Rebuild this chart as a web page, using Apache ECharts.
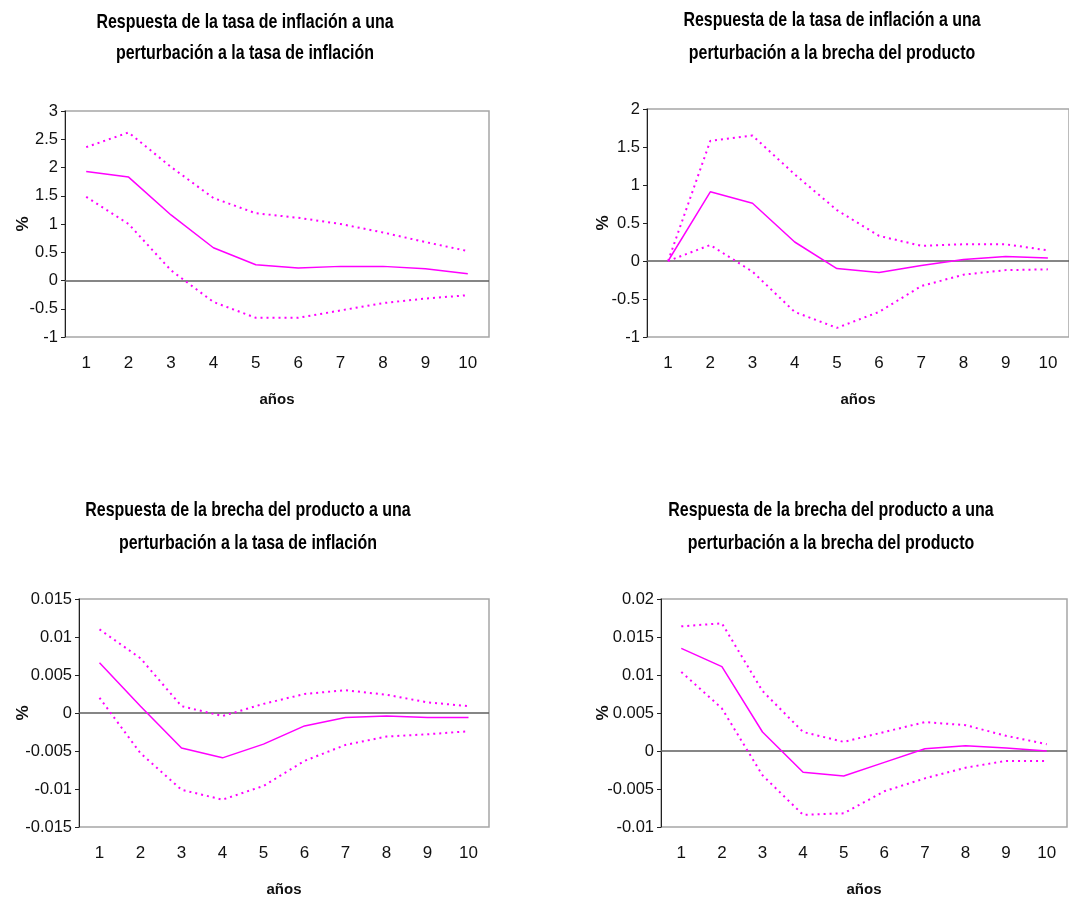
<!DOCTYPE html>
<html>
<head>
<meta charset="utf-8">
<title>Funciones impulso-respuesta</title>
<script src="https://cdn.jsdelivr.net/npm/echarts@6/dist/echarts.min.js"></script>
<style>
  html, body { margin: 0; padding: 0; background: #ffffff; }
  #chart { width: 1069px; height: 902px; }
</style>
</head>
<body>
<div id="chart"></div>
<script>
// Horizonte de la respuesta (años)
const years = ['1', '2', '3', '4', '5', '6', '7', '8', '9', '10'];

// Inflación ante choque de inflación
const infInfCenter = [1.93, 1.83, 1.16, 0.58, 0.28, 0.22, 0.25, 0.25, 0.21, 0.12];
const infInfUpper  = [2.36, 2.62, 2.01, 1.46, 1.19, 1.11, 1.00, 0.85, 0.68, 0.52];
const infInfLower  = [1.48, 1.00, 0.18, -0.38, -0.66, -0.66, -0.53, -0.40, -0.32, -0.26];

// Inflación ante choque de la brecha del producto
const infGapCenter = [0.00, 0.91, 0.76, 0.25, -0.10, -0.15, -0.06, 0.02, 0.06, 0.04];
const infGapUpper  = [0.00, 1.58, 1.65, 1.14, 0.67, 0.33, 0.20, 0.22, 0.22, 0.14];
const infGapLower  = [0.00, 0.21, -0.14, -0.67, -0.88, -0.67, -0.33, -0.18, -0.12, -0.11];

// Brecha del producto ante choque de inflación
const gapInfCenter = [0.0066, 0.0009, -0.0046, -0.0059, -0.0041, -0.0017, -0.0006, -0.0004, -0.0006, -0.0006];
const gapInfUpper  = [0.0110, 0.0072, 0.0009, -0.0004, 0.0012, 0.0025, 0.0030, 0.0024, 0.0014, 0.0009];
const gapInfLower  = [0.0020, -0.0053, -0.0101, -0.0114, -0.0096, -0.0063, -0.0042, -0.0031, -0.0028, -0.0024];

// Brecha del producto ante choque de la brecha del producto
const gapGapCenter = [0.0135, 0.0111, 0.0025, -0.0028, -0.0033, -0.0015, 0.0003, 0.0007, 0.0004, 0.0000];
const gapGapUpper  = [0.0164, 0.0168, 0.0079, 0.0025, 0.0012, 0.0025, 0.0038, 0.0034, 0.0020, 0.0009];
const gapGapLower  = [0.0104, 0.0056, -0.0032, -0.0084, -0.0082, -0.0053, -0.0036, -0.0022, -0.0013, -0.0013];

// Escalas de los ejes verticales
const yScales = [
  { min: -1, max: 3, interval: 0.5 },
  { min: -1, max: 2, interval: 0.5 },
  { min: -0.015, max: 0.015, interval: 0.005 },
  { min: -0.01, max: 0.02, interval: 0.005 }
];

// Títulos de cada panel (dos renglones)
const panelTitles = [
  ['Respuesta de la tasa de inflación a una', 'perturbación a la tasa de inflación'],
  ['Respuesta de la tasa de inflación a una', 'perturbación a la brecha del producto'],
  ['Respuesta de la brecha del producto a una', 'perturbación a la tasa de inflación'],
  ['Respuesta de la brecha del producto a una', 'perturbación a la brecha del producto']
];

const panelSeries = [
  [infInfCenter, infInfUpper, infInfLower],
  [infGapCenter, infGapUpper, infGapLower],
  [gapInfCenter, gapInfUpper, gapInfLower],
  [gapGapCenter, gapGapUpper, gapGapLower]
];

const FONT = '"Liberation Sans", Arial, sans-serif';
const MAGENTA = '#ff00ff';

const grids = [
  { left: 65,  top: 111, width: 424, height: 226 },
  { left: 647, top: 109, width: 422, height: 228 },
  { left: 79,  top: 599, width: 410, height: 228 },
  { left: 661, top: 599, width: 406, height: 228 }
];
const yNameGaps = [33, 35, 47, 49];
const titlePos = [
  { x: 245, y: [22, 53] },
  { x: 832, y: [20, 53] },
  { x: 248, y: [510, 543] },
  { x: 831, y: [510, 543] }
];

const option = {
  backgroundColor: '#ffffff',
  animation: false,
  grid: grids.map(g => Object.assign({
    show: true,
    borderColor: '#a6a6a6',
    borderWidth: 1.5,
    backgroundColor: '#ffffff',
    containLabel: false
  }, g)),
  xAxis: grids.map((g, i) => ({
    type: 'category',
    gridIndex: i,
    data: years,
    boundaryGap: true,
    axisLine: { show: false },
    axisTick: { show: false },
    splitLine: { show: false },
    axisLabel: { margin: 18, color: '#111', fontFamily: FONT, fontSize: 17 },
    name: 'años',
    nameLocation: 'middle',
    nameGap: 55,
    nameMoveOverlap: false,
    nameTextStyle: { fontFamily: FONT, fontWeight: 'bold', fontSize: 15, color: '#111' }
  })),
  yAxis: grids.map((g, i) => ({
    type: 'value',
    gridIndex: i,
    min: yScales[i].min,
    max: yScales[i].max,
    interval: yScales[i].interval,
    axisLine: { show: true, onZero: false, lineStyle: { color: '#222', width: 1 } },
    axisTick: { show: true, length: 4, inside: false, lineStyle: { color: '#222' } },
    splitLine: { show: false },
    axisLabel: {
      margin: 7,
      color: '#111',
      fontFamily: FONT,
      fontSize: 16.5,
      formatter: v => String(+v.toFixed(4))
    },
    name: '%',
    nameLocation: 'middle',
    nameRotate: 90,
    nameGap: yNameGaps[i],
    nameMoveOverlap: false,
    nameTextStyle: { fontFamily: FONT, fontWeight: 'bold', fontSize: 17, color: '#111' }
  })),
  series: [],
  graphic: []
};

panelSeries.forEach((set, i) => {
  const [center, upper, lower] = set;
  option.series.push({
    type: 'line',
    xAxisIndex: i,
    yAxisIndex: i,
    data: center,
    symbol: 'none',
    z: 3,
    lineStyle: { color: MAGENTA, width: 1.5 },
    markLine: {
      silent: true,
      symbol: 'none',
      label: { show: false },
      lineStyle: { color: '#5e5e5e', width: 1.5, type: 'solid' },
      data: [{ yAxis: 0 }],
      z: 2
    }
  });
  [upper, lower].forEach(band => {
    option.series.push({
      type: 'line',
      xAxisIndex: i,
      yAxisIndex: i,
      data: band,
      symbol: 'none',
      z: 3,
      lineStyle: { color: MAGENTA, width: 2, type: [2, 4] }
    });
  });
});

panelTitles.forEach((lines, i) => {
  lines.forEach((txt, k) => {
    option.graphic.push({
      type: 'text',
      x: titlePos[i].x,
      y: titlePos[i].y[k],
      scaleX: 0.76,
      silent: true,
      style: {
        text: txt,
        x: 0,
        y: 0,
        textAlign: 'center',
        textVerticalAlign: 'middle',
        verticalAlign: 'middle',
        font: 'bold 21px ' + FONT,
        fill: '#000'
      }
    });
  });
});

const chart = echarts.init(document.getElementById('chart'), null, { renderer: 'canvas' });
chart.setOption(option);
</script>
</body>
</html>
